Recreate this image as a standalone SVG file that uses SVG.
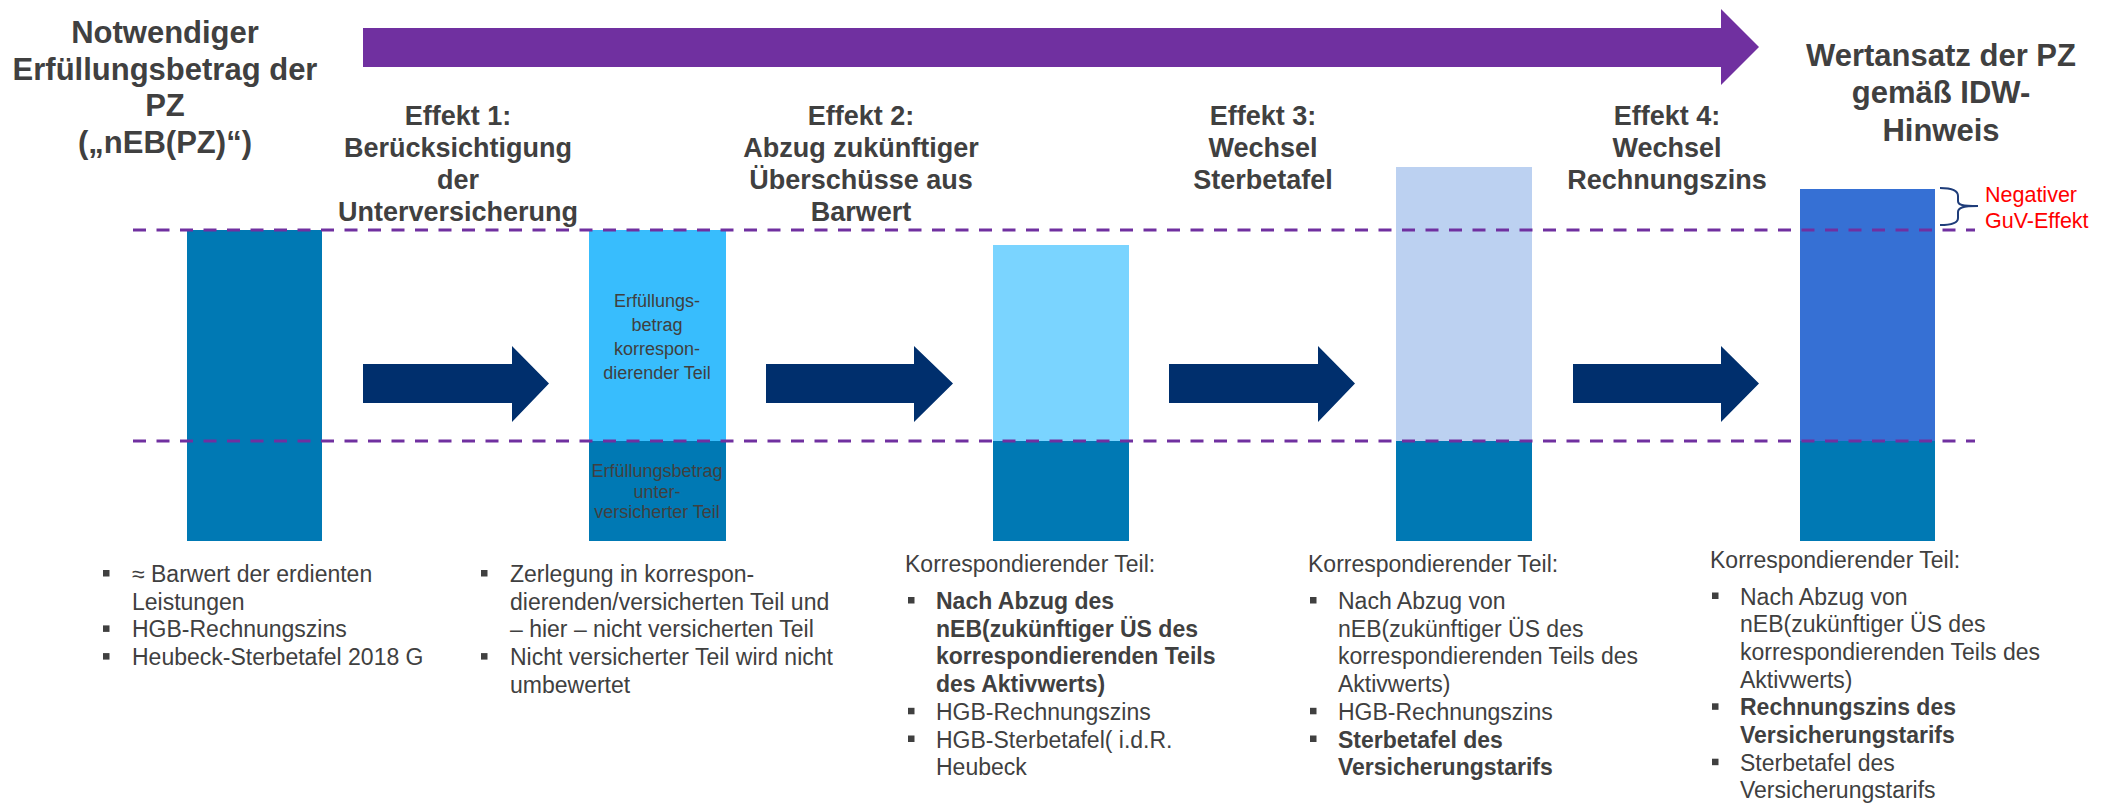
<svg xmlns="http://www.w3.org/2000/svg" width="2112" height="806" viewBox="0 0 2112 806">
<style>
text{font-family:"Liberation Sans",Arial,sans-serif;fill:#404040}
.title{font-size:31px;font-weight:bold;text-anchor:middle}
.hdr{font-size:27px;font-weight:bold;text-anchor:middle}
.body{font-size:23px}
.b{font-weight:bold}
.lbl{font-size:18px;text-anchor:middle}
.neg{font-size:21.5px;fill:#FF0000}
.base{fill:#0079B4}
.arr{fill:#002F6D}
.dash{stroke:#7030A0;stroke-width:3;stroke-dasharray:13 10.5;fill:none}
.bul{fill:#404040}
</style>
<rect width="2112" height="806" fill="#FFFFFF"/>

<g id="timeline">
<polygon points="363,28 1721,28 1721,9 1759,47 1721,85 1721,67 363,67" fill="#7030A0"/>
</g>

<g id="title-left">
<text class="title" x="165" y="43">Notwendiger</text>
<text class="title" x="165" y="80">Erfüllungsbetrag der</text>
<text class="title" x="165" y="116">PZ</text>
<text class="title" x="165" y="153">(„nEB(PZ)“)</text>
</g>
<g id="title-right">
<text class="title" x="1941" y="66">Wertansatz der PZ</text>
<text class="title" x="1941" y="103">gemäß IDW-</text>
<text class="title" x="1941" y="141">Hinweis</text>
</g>

<g id="effekt1-header">
<text class="hdr" x="458" y="125">Effekt 1:</text>
<text class="hdr" x="458" y="157">Berücksichtigung</text>
<text class="hdr" x="458" y="189">der</text>
<text class="hdr" x="458" y="221">Unterversicherung</text>
</g>
<g id="effekt2-header">
<text class="hdr" x="861" y="125">Effekt 2:</text>
<text class="hdr" x="861" y="157">Abzug zukünftiger</text>
<text class="hdr" x="861" y="189">Überschüsse aus</text>
<text class="hdr" x="861" y="221">Barwert</text>
</g>
<g id="effekt3-header">
<text class="hdr" x="1263" y="125">Effekt 3:</text>
<text class="hdr" x="1263" y="157">Wechsel</text>
<text class="hdr" x="1263" y="189">Sterbetafel</text>
</g>
<g id="effekt4-header">
<text class="hdr" x="1667" y="125">Effekt 4:</text>
<text class="hdr" x="1667" y="157">Wechsel</text>
<text class="hdr" x="1667" y="189">Rechnungszins</text>
</g>

<g id="bar1">
<rect class="base" x="187" y="230" width="135" height="311"/>
</g>
<g id="bar2">
<rect x="589" y="230" width="137" height="211" fill="#38BDFD"/>
<rect class="base" x="589" y="441" width="137" height="100"/>
<text class="lbl" x="657" y="307">Erfüllungs-</text>
<text class="lbl" x="657" y="331">betrag</text>
<text class="lbl" x="657" y="355">korrespon-</text>
<text class="lbl" x="657" y="379">dierender Teil</text>
<text class="lbl" x="657" y="477">Erfüllungsbetrag</text>
<text class="lbl" x="657" y="498">unter-</text>
<text class="lbl" x="657" y="518">versicherter Teil</text>
</g>
<g id="bar3">
<rect x="993" y="245" width="136" height="196" fill="#7AD4FF"/>
<rect class="base" x="993" y="441" width="136" height="100"/>
</g>
<g id="bar4">
<rect x="1396" y="167" width="136" height="274" fill="#BCD1F1"/>
<rect class="base" x="1396" y="441" width="136" height="100"/>
</g>
<g id="bar5">
<rect x="1800" y="189" width="135" height="252" fill="#3670D4"/>
<rect class="base" x="1800" y="441" width="135" height="100"/>
</g>

<g id="guides">
<line class="dash" x1="133" y1="230" x2="1975" y2="230"/>
<line class="dash" x1="133" y1="441" x2="1975" y2="441"/>
</g>

<g id="connectors">
<polygon class="arr" points="363,364 512,364 512,346 549,383.5 512,422 512,403 363,403"/>
<polygon class="arr" points="766,364 914,364 914,346 953,383.5 914,422 914,403 766,403"/>
<polygon class="arr" points="1169,364 1318,364 1318,346 1355,383.5 1318,422 1318,403 1169,403"/>
<polygon class="arr" points="1573,364 1721,364 1721,346 1759,383.5 1721,422 1721,403 1573,403"/>
</g>

<g id="negative-effect">
<path d="M1940,188 C1952,188 1958,190 1958,196 L1958,201 C1958,205 1962,206 1978,206 C1962,206 1958,208 1958,212 L1958,218 C1958,223 1952,225 1940,225" fill="none" stroke="#1F3D7A" stroke-width="2"/>
<text class="neg" x="1985" y="202">Negativer</text>
<text class="neg" x="1985" y="228">GuV-Effekt</text>
</g>

<g id="notes1">
<rect class="bul" x="103" y="570" width="6.5" height="6.5"/>
<rect class="bul" x="103" y="625.4" width="6.5" height="6.5"/>
<rect class="bul" x="103" y="653.1" width="6.5" height="6.5"/>
<text class="body" x="132" y="582">≈ Barwert der erdienten</text>
<text class="body" x="132" y="609.7">Leistungen</text>
<text class="body" x="132" y="637.4">HGB-Rechnungszins</text>
<text class="body" x="132" y="665.1">Heubeck-Sterbetafel 2018 G</text>
</g>

<g id="notes2">
<rect class="bul" x="481" y="570" width="6.5" height="6.5"/>
<rect class="bul" x="481" y="653.1" width="6.5" height="6.5"/>
<text class="body" x="510" y="582">Zerlegung in korrespon-</text>
<text class="body" x="510" y="609.7">dierenden/versicherten Teil und</text>
<text class="body" x="510" y="637.4">– hier – nicht versicherten Teil</text>
<text class="body" x="510" y="665.1">Nicht versicherter Teil wird nicht</text>
<text class="body" x="510" y="692.8">umbewertet</text>
</g>

<g id="notes3">
<text class="body" x="905" y="572">Korrespondierender Teil:</text>
<rect class="bul" x="908" y="597" width="6.5" height="6.5"/>
<rect class="bul" x="908" y="707.8" width="6.5" height="6.5"/>
<rect class="bul" x="908" y="735.5" width="6.5" height="6.5"/>
<text class="body b" x="936" y="609">Nach Abzug des</text>
<text class="body b" x="936" y="636.7">nEB(zukünftiger ÜS des</text>
<text class="body b" x="936" y="664.4">korrespondierenden Teils</text>
<text class="body b" x="936" y="692.1">des Aktivwerts)</text>
<text class="body" x="936" y="719.8">HGB-Rechnungszins</text>
<text class="body" x="936" y="747.5">HGB-Sterbetafel( i.d.R.</text>
<text class="body" x="936" y="775.2">Heubeck</text>
</g>

<g id="notes4">
<text class="body" x="1308" y="572">Korrespondierender Teil:</text>
<rect class="bul" x="1310" y="597" width="6.5" height="6.5"/>
<rect class="bul" x="1310" y="707.8" width="6.5" height="6.5"/>
<rect class="bul" x="1310" y="735.5" width="6.5" height="6.5"/>
<text class="body" x="1338" y="609">Nach Abzug von</text>
<text class="body" x="1338" y="636.7">nEB(zukünftiger ÜS des</text>
<text class="body" x="1338" y="664.4">korrespondierenden Teils des</text>
<text class="body" x="1338" y="692.1">Aktivwerts)</text>
<text class="body" x="1338" y="719.8">HGB-Rechnungszins</text>
<text class="body b" x="1338" y="747.5">Sterbetafel des</text>
<text class="body b" x="1338" y="775.2">Versicherungstarifs</text>
</g>

<g id="notes5">
<text class="body" x="1710" y="568">Korrespondierender Teil:</text>
<rect class="bul" x="1712" y="592.5" width="6.5" height="6.5"/>
<rect class="bul" x="1712" y="703.3" width="6.5" height="6.5"/>
<rect class="bul" x="1712" y="758.7" width="6.5" height="6.5"/>
<text class="body" x="1740" y="604.5">Nach Abzug von</text>
<text class="body" x="1740" y="632.2">nEB(zukünftiger ÜS des</text>
<text class="body" x="1740" y="659.9">korrespondierenden Teils des</text>
<text class="body" x="1740" y="687.6">Aktivwerts)</text>
<text class="body b" x="1740" y="715.3">Rechnungszins des</text>
<text class="body b" x="1740" y="743">Versicherungstarifs</text>
<text class="body" x="1740" y="770.7">Sterbetafel des</text>
<text class="body" x="1740" y="798.4">Versicherungstarifs</text>
</g>
</svg>
